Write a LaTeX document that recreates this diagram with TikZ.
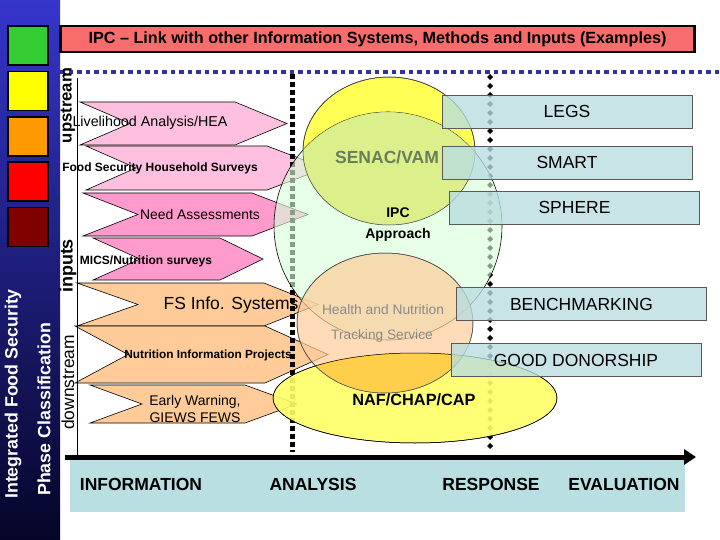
\documentclass[tikz,border=0pt]{standalone}
\usepackage{fontspec}
\setmainfont{Liberation Sans}
\usetikzlibrary{arrows.meta}
\definecolor{sqgreen}{HTML}{33CC33}
\definecolor{sqyellow}{HTML}{FFFF00}
\definecolor{sqorange}{HTML}{FF9900}
\definecolor{sqred}{HTML}{FF0000}
\definecolor{sqdark}{HTML}{800000}
\definecolor{sidetop}{HTML}{3535CC}
\definecolor{sidebot}{HTML}{050528}
\definecolor{titlered}{HTML}{F86C6C}
\definecolor{navydot}{HTML}{333399}
\definecolor{pinklight}{HTML}{FFC0E0}
\definecolor{pinkmid}{HTML}{FF9ACC}
\definecolor{peach}{HTML}{FFCC99}
\definecolor{boxblue}{HTML}{B8DDE0}
\definecolor{bandblue}{HTML}{B9DFE3}
\definecolor{circyellow}{HTML}{FFFF55}
\definecolor{circgreen}{HTML}{D8FFD8}
\definecolor{circyg}{HTML}{DAEE86}
\definecolor{nafyellow}{HTML}{FFFF66}
\definecolor{gold}{HTML}{FFCC40}
\definecolor{senac}{HTML}{6B7D5A}
\definecolor{hgray}{HTML}{8A8A8A}
\newcommand\chev[7]{% fill, x0, x1, tip, ytop, ybot, notch
  \filldraw[chevst, fill=#1] (#2,#5) -- (#3,#5) -- (#4,{(#5+#6)/2}) -- (#3,#6) -- (#2,#6) -- (#7,{(#5+#6)/2}) -- cycle;}
\begin{document}
\begin{tikzpicture}[x=1pt,y=-1pt,
  sq/.style={draw=black, line width=1.2pt, minimum width=40pt, minimum height=39pt, inner sep=0pt},
  sidetxt/.style={rotate=90, anchor=west, inner sep=0pt, text=white, font=\bfseries\fontsize{17.8pt}{20pt}\selectfont},
  sidelbl/.style={rotate=90, inner sep=0pt},
  chevst/.style={draw=black, line width=0.6pt},
  boxst/.style={draw=black!65, line width=0.6pt, fill=boxblue, fill opacity=0.78, text opacity=1, minimum width=250pt, minimum height=33pt, inner sep=0pt, font=\fontsize{17.5pt}{21pt}\selectfont},
  phase/.style={inner sep=0pt, font=\bfseries\fontsize{17.5pt}{21pt}\selectfont},
  lbl/.style={inner sep=0pt}
]
\useasboundingbox (0,0) rectangle (720,540);
% sidebar
\shade[top color=sidetop, bottom color=sidebot] (0,0) rectangle (60,540);
\node[sq, fill=sqgreen] (s1) at (28,45.5) {};
\node[sq, fill=sqyellow] (s2) at (28,91) {};
\node[sq, fill=sqorange] (s3) at (28,136.5) {};
\node[sq, fill=sqred] (s4) at (28,181.5) {};
\node[sq, fill=sqdark] (s5) at (28,227) {};
\node[sidetxt] (ifs) at (13,499) {Integrated Food Security};
\node[sidetxt] (pc) at (44,496) {Phase Classification};
% title
\node[draw=black, line width=2.5pt, fill=titlered, minimum width=634pt, minimum height=26pt, inner sep=0pt,
  font=\bfseries\fontsize{16.2pt}{18pt}\selectfont] (title) at (377.5,39) {IPC -- Link with other Information Systems, Methods and Inputs (Examples)};
% blue dotted line
\draw[navydot, line width=4.5pt, dash pattern=on 4.5pt off 4pt] (60,72) -- (720,72);
% chevrons
\chev{pinklight}{80}{235}{287}{102}{145}{130}
\chev{pinklight}{86}{267}{325}{146}{190}{136}
\chev{pinkmid}{83}{252}{308}{193}{236}{138}
\chev{pinkmid}{93}{220}{263}{238}{280}{140}
\chev{peach}{77}{264}{318}{283}{326}{138}
\chev{peach}{75}{265}{328}{326}{383}{128}
\chev{peach}{90}{245}{297}{385}{423}{142}
% dotted lines
\draw[black, line width=5pt, dash pattern=on 5pt off 3pt] (292,74) -- (292,452);
\foreach \yy in {77,86,...,452} {\fill (490,\yy) +(-3,0) -- +(0,-3) -- +(3,0) -- +(0,3) -- cycle;}
% circles
\filldraw[fill=circyellow, draw=black, line width=0.5pt] (389,151) ellipse [x radius=86pt, y radius=74pt];
\filldraw[fill=circgreen, fill opacity=0.62, draw=black, line width=0.6pt] (388,226) circle [radius=114pt];
\begin{scope}
  \clip (389,151) ellipse [x radius=86pt, y radius=74pt];
  \fill[circyg, opacity=0.85] (388,226) circle [radius=114pt];
\end{scope}
\draw[black!70, line width=0.5pt] (389,151) ellipse [x radius=86pt, y radius=74pt];
\filldraw[fill=nafyellow, draw=black, line width=0.5pt, fill opacity=0.9] (415,398) ellipse [x radius=142pt, y radius=45pt];
\filldraw[fill=peach, fill opacity=0.7, draw=black!70, line width=0.5pt] (385,323) ellipse [x radius=88pt, y radius=70pt];
\begin{scope}
  \clip (415,398) ellipse [x radius=142pt, y radius=45pt];
  \fill[gold, opacity=0.85] (385,323) ellipse [x radius=88pt, y radius=70pt];
\end{scope}
\draw[black!70, line width=0.5pt] (385,323) ellipse [x radius=88pt, y radius=70pt];
\draw[black, line width=0.5pt] (415,398) ellipse [x radius=142pt, y radius=45pt];
% boxes
\node[boxst] (legs) at (567,111.5) {LEGS};
\node[boxst] (smart) at (567,162.5) {SMART};
\node[boxst] (sphere) at (574.5,207.5) {SPHERE};
\node[boxst] (bench) at (581.5,304) {BENCHMARKING};
\node[boxst] (good) at (576,360) {GOOD DONORSHIP};
% axes
\coordinate (vtop) at (77,78);
\coordinate (vbot) at (77,455);
\draw[black, line width=1pt] (vtop) -- (vbot);
\fill[bandblue] (70,460) rectangle (685,512);
\coordinate (axL) at (65,457);
\coordinate (axR) at (696,457);
\draw[black, line width=5pt, -{Triangle[length=12pt,width=15pt]}] (axL) -- (axR);
% side labels
\node[sidelbl, font=\bfseries\fontsize{16.7pt}{20pt}\selectfont] (up) at (68,105.5) {upstream};
\node[sidelbl, font=\bfseries\fontsize{18pt}{20pt}\selectfont] (inp) at (68,266) {inputs};
\node[sidelbl, font=\fontsize{17.4pt}{20pt}\selectfont] (down) at (68,382.5) {downstream};
% phase labels
\node[phase] (info) at (141,484) {INFORMATION};
\node[phase] (ana) at (313,484) {ANALYSIS};
\node[phase] (resp) at (491,484) {RESPONSE};
\node[phase] (eval) at (624,484) {EVALUATION};
% chevron texts
\node[lbl, font=\fontsize{14.3pt}{17pt}\selectfont] (t1) at (150,123) {Livelihood Analysis/HEA};
\node[lbl, font=\bfseries\fontsize{12pt}{14pt}\selectfont] (t2) at (160,168) {Food Security Household Surveys};
\node[lbl, font=\fontsize{13.9pt}{17pt}\selectfont] (t3) at (200,215) {Need Assessments};
\node[lbl, font=\bfseries\fontsize{12pt}{14pt}\selectfont] (t4) at (146,261) {MICS/Nutrition surveys};
\node[lbl, font=\fontsize{17.5pt}{20pt}\selectfont] (t5) at (231,305) {FS Info. Systems};
\node[lbl, font=\bfseries\fontsize{11.8pt}{14pt}\selectfont] (t6) at (208,355) {Nutrition Information Projects};
\node[lbl, font=\fontsize{14pt}{17pt}\selectfont, align=center] (t7) at (195,408.5) {Early Warning,\\GIEWS FEWS};
% circle texts
\node[lbl, text=senac, font=\bfseries\fontsize{17.5pt}{20pt}\selectfont] (senac) at (387,157) {SENAC/VAM};
\node[lbl, font=\bfseries\fontsize{14pt}{17pt}\selectfont] (ipc) at (398,213) {IPC};
\node[lbl, font=\bfseries\fontsize{14pt}{17pt}\selectfont] (appr) at (398,235) {Approach};
\node[lbl, text=hgray, font=\fontsize{13.8pt}{17pt}\selectfont] (hn) at (383,310) {Health and Nutrition};
\node[lbl, text=hgray, font=\fontsize{13.7pt}{17pt}\selectfont] (ts) at (382,336) {Tracking Service};
\node[lbl, font=\bfseries\fontsize{16.3pt}{20pt}\selectfont] (naf) at (414,400) {NAF/CHAP/CAP};
\end{tikzpicture}
\end{document}
